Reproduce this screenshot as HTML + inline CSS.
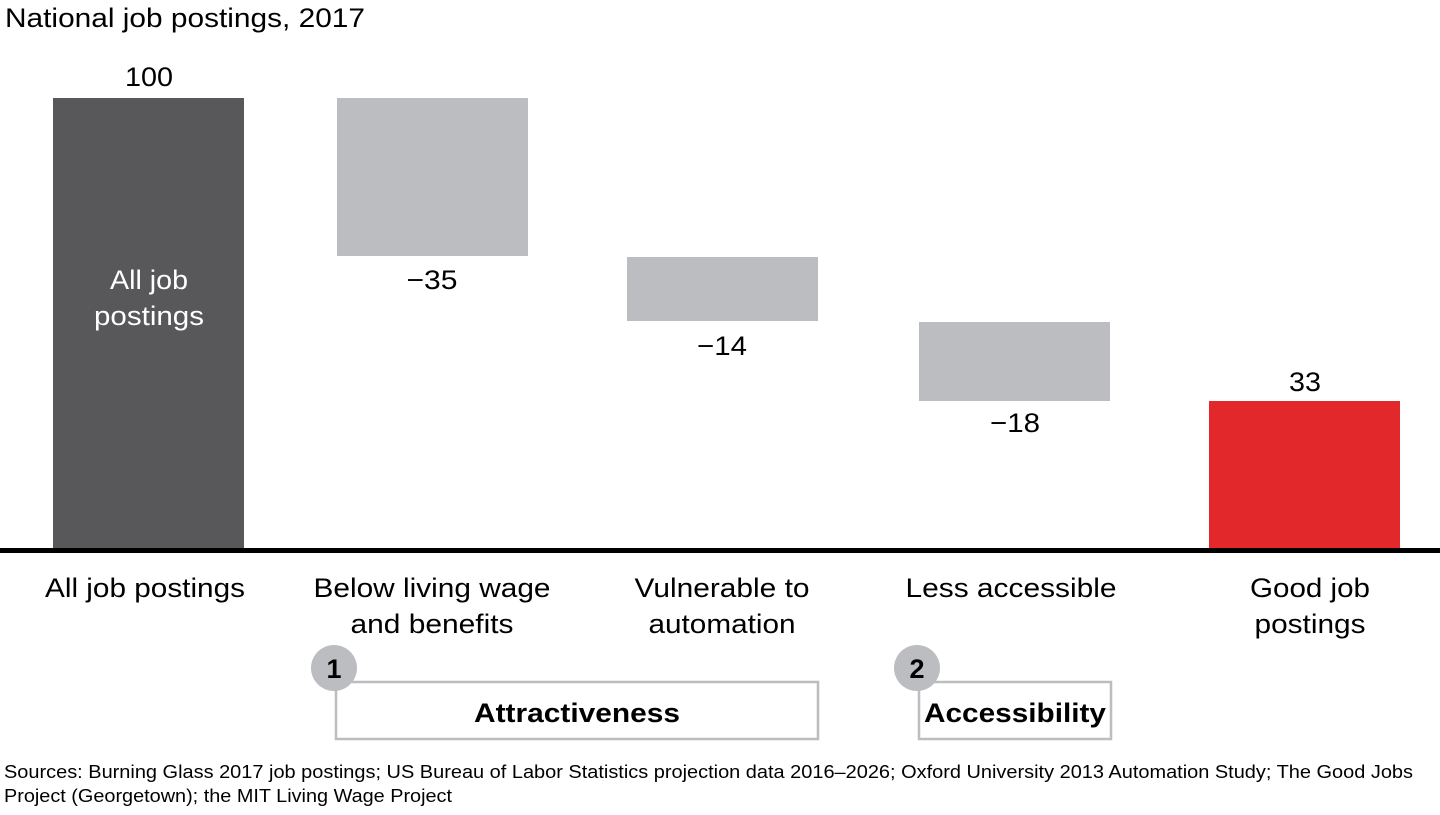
<!DOCTYPE html>
<html><head><meta charset="utf-8"><style>
body{margin:0;width:1440px;height:810px;background:#fff;font-family:"Liberation Sans",Arial,sans-serif;overflow:hidden}
svg text{font-family:"Liberation Sans",Arial,sans-serif}
</style></head><body>
<svg width="1440" height="810" xmlns="http://www.w3.org/2000/svg">
<text x="5" y="27" font-size="27" fill="#000" textLength="360" lengthAdjust="spacingAndGlyphs">National job postings, 2017</text>
<rect x="53" y="98" width="191" height="452" fill="#58585a"/>
<rect x="337" y="98" width="191" height="158" fill="#bcbdc0"/>
<rect x="627" y="257" width="191" height="64" fill="#bcbdc0"/>
<rect x="919" y="322" width="191" height="79" fill="#bcbdc0"/>
<rect x="1209" y="401" width="191" height="149" fill="#e2282a"/>
<rect x="0" y="548" width="1440" height="5" fill="#000"/>
<g font-size="27" text-anchor="middle" fill="#000">
<text x="149" y="86" textLength="48" lengthAdjust="spacingAndGlyphs">100</text>
<text x="432" y="289" textLength="51" lengthAdjust="spacingAndGlyphs">−35</text>
<text x="722" y="355" textLength="50" lengthAdjust="spacingAndGlyphs">−14</text>
<text x="1015" y="432" textLength="50" lengthAdjust="spacingAndGlyphs">−18</text>
<text x="1305" y="391" textLength="32" lengthAdjust="spacingAndGlyphs">33</text>
<text x="149" y="289" fill="#fff" textLength="78" lengthAdjust="spacingAndGlyphs">All job</text>
<text x="149" y="325" fill="#fff" textLength="110" lengthAdjust="spacingAndGlyphs">postings</text>
<text x="145" y="597" textLength="200" lengthAdjust="spacingAndGlyphs">All job postings</text>
<text x="432" y="597" textLength="237" lengthAdjust="spacingAndGlyphs">Below living wage</text>
<text x="432" y="633" textLength="163" lengthAdjust="spacingAndGlyphs">and benefits</text>
<text x="722" y="597" textLength="175" lengthAdjust="spacingAndGlyphs">Vulnerable to</text>
<text x="722" y="633" textLength="147" lengthAdjust="spacingAndGlyphs">automation</text>
<text x="1011" y="597" textLength="211" lengthAdjust="spacingAndGlyphs">Less accessible</text>
<text x="1310" y="597" textLength="120" lengthAdjust="spacingAndGlyphs">Good job</text>
<text x="1310" y="633" textLength="111" lengthAdjust="spacingAndGlyphs">postings</text>
</g>
<rect x="336" y="682" width="482" height="57" fill="#fff" stroke="#bcbdc0" stroke-width="2.5"/>
<rect x="919" y="682" width="192" height="57" fill="#fff" stroke="#bcbdc0" stroke-width="2.5"/>
<circle cx="334" cy="668" r="23" fill="#bcbdc0"/>
<circle cx="917" cy="668" r="23" fill="#bcbdc0"/>
<g font-size="27" font-weight="bold" text-anchor="middle" fill="#000">
<text x="334" y="678">1</text>
<text x="917" y="678">2</text>
<text x="577" y="722" textLength="206" lengthAdjust="spacingAndGlyphs">Attractiveness</text>
<text x="1015" y="722" textLength="182" lengthAdjust="spacingAndGlyphs">Accessibility</text>
</g>
<text x="4" y="778" font-size="18" fill="#000" textLength="1409" lengthAdjust="spacingAndGlyphs">Sources: Burning Glass 2017 job postings; US Bureau of Labor Statistics projection data 2016–2026; Oxford University 2013 Automation Study; The Good Jobs</text>
<text x="4" y="802" font-size="18" fill="#000" textLength="448" lengthAdjust="spacingAndGlyphs">Project (Georgetown); the MIT Living Wage Project</text>
</svg>
</body></html>
